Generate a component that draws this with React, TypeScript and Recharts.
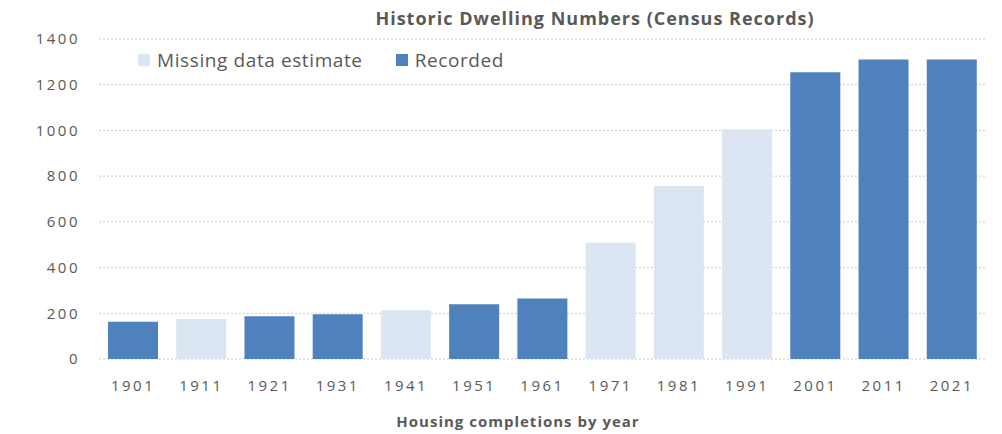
import React from 'react';
import { BarChart, Bar, XAxis, YAxis, CartesianGrid } from 'recharts';

const years = ['1901', '1911', '1921', '1931', '1941', '1951', '1961', '1971', '1981', '1991', '2001', '2011', '2021'];
const dwellings = [163, 175, 187, 196, 213, 240, 265, 509, 757, 1005, 1255, 1310, 1310];
const recordedFlags = [true, false, true, true, false, true, true, false, false, false, true, true, true];
const yTicks = [0, 200, 400, 600, 800, 1000, 1200, 1400];

const DARK = '#4F81BD';
const LIGHT = '#DCE6F2';
const TEXT = '#595959';
const FONT = '"Open Sans", "Liberation Sans", sans-serif';

const data = years.map((year, i) => ({
  year,
  estimate: recordedFlags[i] ? null : dwellings[i],
  recorded: recordedFlags[i] ? dwellings[i] : null,
}));

const legendItems = [
  { label: 'Missing data estimate', color: LIGHT },
  { label: 'Recorded', color: DARK },
];

// legend sits inside the plot area, top left
const LegendBox = () => (
  <div style={{ position: 'absolute', top: 48, left: 138, display: 'flex', alignItems: 'center', gap: 33, fontFamily: FONT, fontSize: 19, letterSpacing: 0.6, color: TEXT, lineHeight: '24px' }}>
    {legendItems.map((item) => (
      <div key={item.label} style={{ display: 'flex', alignItems: 'center', gap: 7 }}>
        <div style={{ width: 12, height: 12, backgroundColor: item.color }} />
        <span>{item.label}</span>
      </div>
    ))}
  </div>
);

export default function App() {
  return (
    <div style={{ position: 'absolute', left: 0, top: 0, width: 1002, height: 434, background: '#fff' }}>
      <BarChart width={1002} height={434} data={data} margin={{ top: 39, right: 16, bottom: 0, left: 0 }} barSize={50}>
        <CartesianGrid vertical={false} stroke="#c8c8c8" strokeDasharray="2 2" />
        <XAxis
          dataKey="year"
          height={75}
          axisLine={false}
          tickLine={false}
          tickMargin={15}
          tick={{ fill: TEXT, fontSize: 15, fontFamily: FONT, letterSpacing: 2.5 }}
        />
        <YAxis
          width={99}
          domain={[0, 1400]}
          ticks={yTicks}
          axisLine={false}
          tickLine={false}
          tickMargin={13}
          tick={{ fill: TEXT, fontSize: 15, fontFamily: FONT, letterSpacing: 2.5 }}
        />
        <Bar dataKey="estimate" stackId="a" fill={LIGHT} isAnimationActive={false} />
        <Bar dataKey="recorded" stackId="a" fill={DARK} isAnimationActive={false} />
      </BarChart>
      <div style={{ position: 'absolute', top: 6, left: 0, width: 1190, textAlign: 'center', fontFamily: FONT, fontWeight: 700, fontSize: 18, letterSpacing: 1, color: TEXT }}>
        Historic Dwelling Numbers (Census Records)
      </div>
      <div style={{ position: 'absolute', top: 411, left: 0, width: 1036, textAlign: 'center', fontFamily: FONT, fontWeight: 700, fontSize: 15, letterSpacing: 1, color: TEXT }}>
        Housing completions by year
      </div>
      <LegendBox />
    </div>
  );
}
